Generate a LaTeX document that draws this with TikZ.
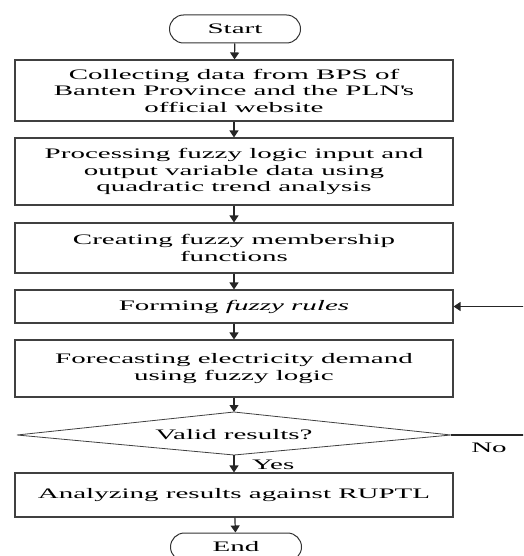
\documentclass[tikz,border=0pt]{standalone}
\usepackage{fontspec}
\setmainfont{Liberation Serif}[FakeStretch=2.0]
\usetikzlibrary{arrows.meta}
\begin{document}
\begin{tikzpicture}[x=1pt,y=-1pt,
  every node/.style={font=\fontsize{14.5}{16.5}\selectfont, text=black},
  procbox/.style={draw=black!75, line width=1.1pt, minimum width=438pt, align=center, inner sep=0pt},
  term/.style={draw=black!80, line width=1pt, rounded corners=14pt, minimum width=131pt, minimum height=28pt, inner sep=0pt},
  flow/.style={draw=black!85, line width=1.2pt, -{Triangle[width=9pt,length=7pt]}}]
\clip (0,0) rectangle (523,556);
\node[term] (start) at (235,29) {Start};
\node[procbox, minimum height=61pt] (b1) at (234,90.5) {Collecting data from BPS of\\Banten Province and the PLN\textquotesingle s\\official website};
\node[procbox, minimum height=67pt] (b2) at (234,171.5) {Processing fuzzy logic input and\\output variable data using\\quadratic trend analysis};
\node[procbox, minimum height=50pt] (b3) at (234,248) {Creating fuzzy membership\\functions};
\node[procbox, minimum height=33pt] (b4) at (234,306.5) {Forming \textit{fuzzy rules}};
\node[procbox, minimum height=57pt] (b5) at (234,368.5) {Forecasting electricity demand\\using fuzzy logic};
\coordinate (dtop) at (234,412);
\coordinate (dbot) at (234,455);
\coordinate (dleft) at (17,435);
\coordinate (dright) at (451,435);
\draw[draw=black!75, line width=0.8pt] (dtop) -- (dright) -- (dbot) -- (dleft) -- cycle;
\node (dec) at (234,435) {Valid results?};
\node[procbox, minimum height=44pt] (b6) at (234,495) {Analyzing results against RUPTL};
\node[term] (end) at (236,547) {End};
\coordinate (lp1) at (535,435);
\coordinate (lp2) at (535,306.5);
\node (no) at (489,448) {No};
\node[anchor=west, inner sep=0pt] (yes) at (252,465) {Yes};
\draw[flow] (start) -- (b1);
\draw[flow] (b1) -- (b2);
\draw[flow] (b2) -- (b3);
\draw[flow] (b3) -- (b4);
\draw[flow] (b4) -- (b5);
\draw[flow] (b5) -- (dtop);
\draw[flow] (dbot) -- (b6);
\draw[flow] (b6) -- (end);
\draw[flow] (dright) -- (lp1) -- (lp2) -- (b4.east);
\end{tikzpicture}
\end{document}
